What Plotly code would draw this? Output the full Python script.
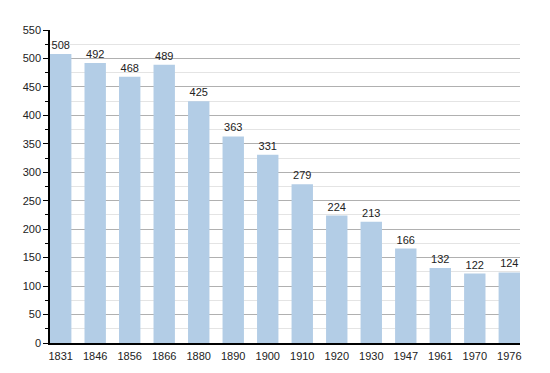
import plotly.graph_objects as go

years = ["1831", "1846", "1856", "1866", "1880", "1890", "1900", "1910", "1920", "1930", "1947", "1961", "1970", "1976"]
population = [508, 492, 468, 489, 425, 363, 331, 279, 224, 213, 166, 132, 122, 124]
y_ticks = list(range(0, 551, 50))

fig = go.Figure(go.Bar(
    x=years, y=population,
    marker=dict(color="#b3cde6", line=dict(width=0)),
    width=0.62,
    text=[str(v) for v in population],
    textposition="outside",
    textfont=dict(family="Liberation Sans, Arial, sans-serif", size=11, color="#222"),
    cliponaxis=False,
))

fig.update_layout(
    width=550, height=373,
    margin=dict(l=42, r=38, t=22, b=38),
    paper_bgcolor="white", plot_bgcolor="white",
    font=dict(family="Liberation Sans, Arial, sans-serif", size=11, color="#222"),
    showlegend=False,
    bargap=0.38,
)
fig.update_xaxes(
    type="category", range=[-0.31, 13.31],
    showline=True, linecolor="black", linewidth=1.5,
    showgrid=False, ticks="", ticklabelstandoff=2,
)
fig.update_yaxes(
    range=[0, 550], tickvals=y_ticks,
    showline=True, linecolor="black", linewidth=1.5,
    showgrid=True, gridcolor="#b0b0b0", gridwidth=1,
    ticks="outside", ticklen=5, tickcolor="black",
    zeroline=False,
    minor=dict(dtick=25, showgrid=True, gridcolor="#e4e4e4", ticks="outside", ticklen=3, tickcolor="black"),
)

fig.write_html("out.html")
